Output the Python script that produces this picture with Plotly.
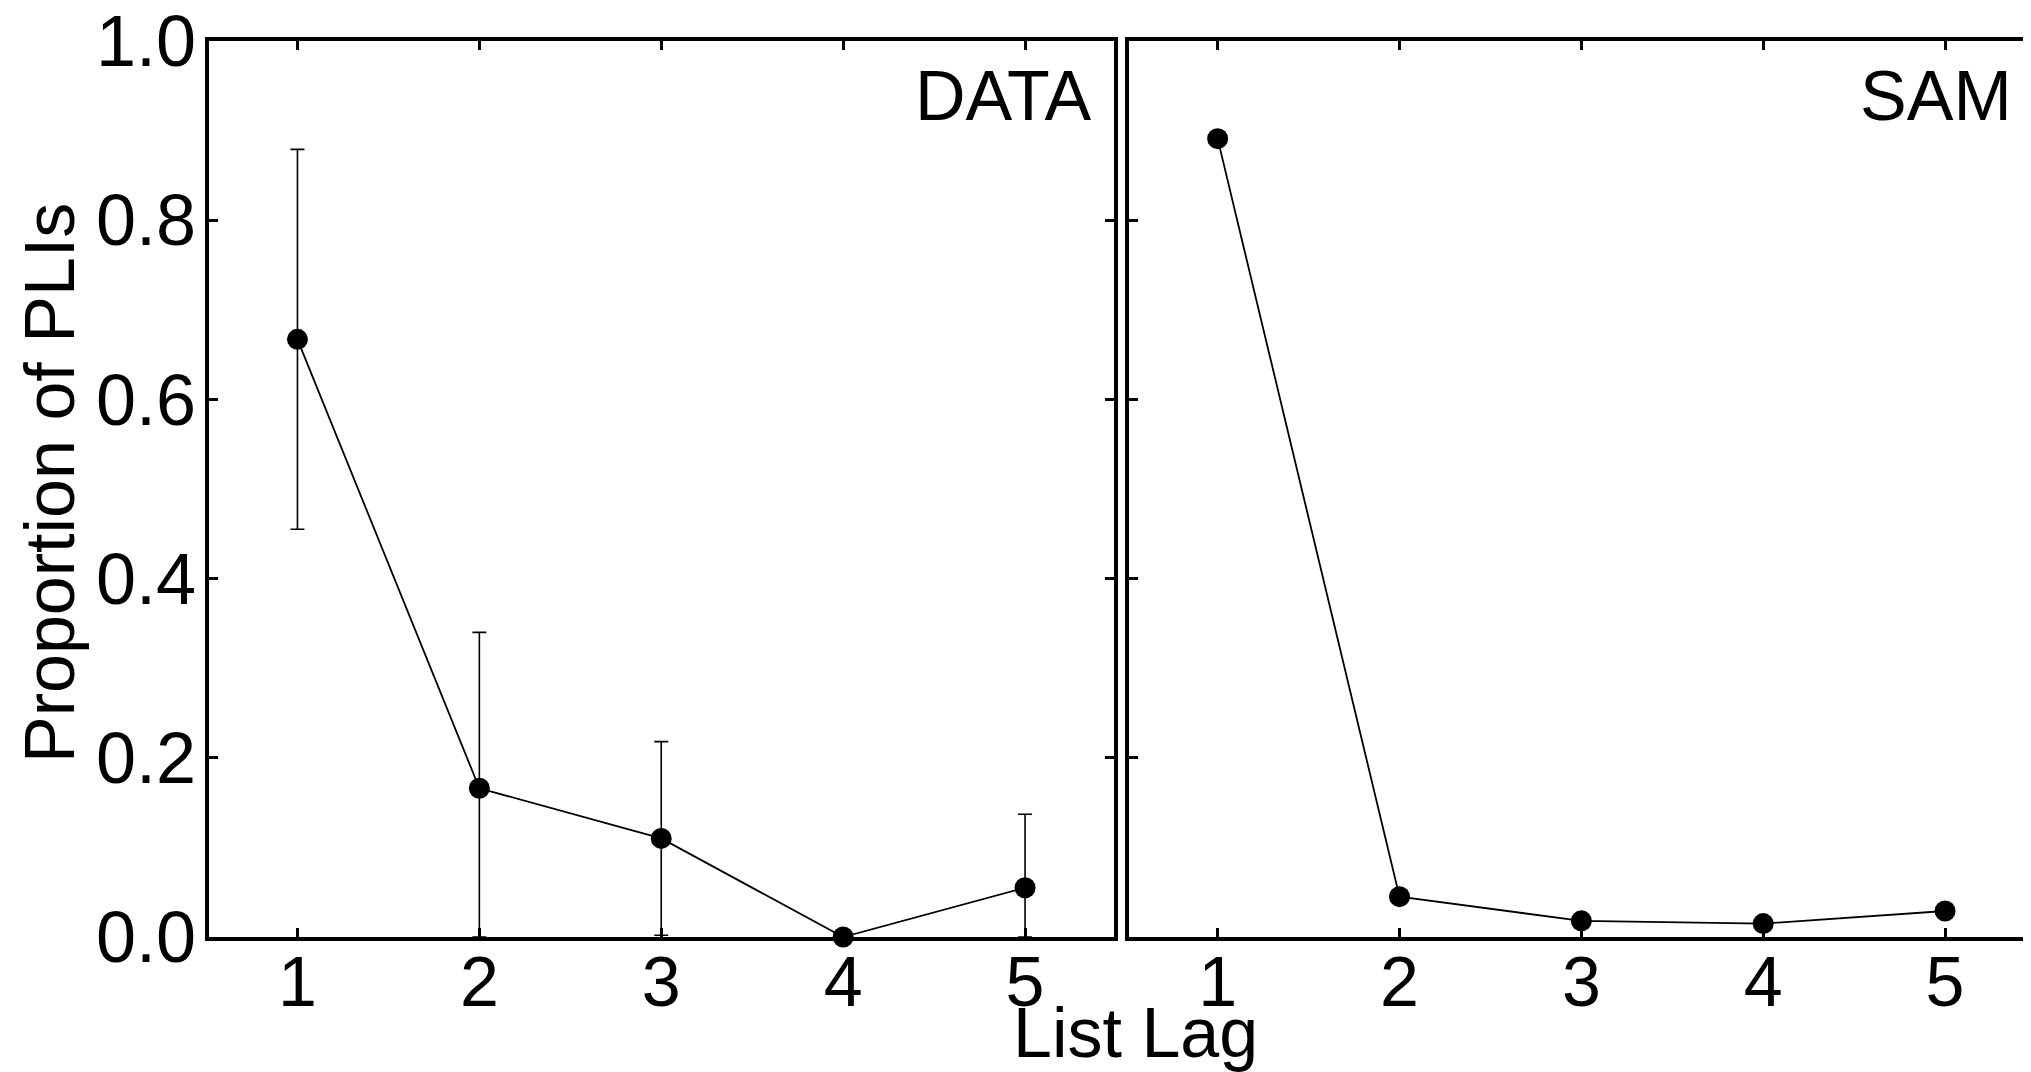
import plotly.graph_objects as go

# ---- data ----
lags = [1, 2, 3, 4, 5]
tick_labels = ["1", "2", "3", "4", "5"]
data_mean = [0.667, 0.166, 0.110, 0.0, 0.055]
data_err = [0.212, 0.174, 0.108, 0.0, 0.082]
sam_mean = [0.891, 0.045, 0.018, 0.015, 0.029]
y_ticks = [0.0, 0.2, 0.4, 0.6, 0.8, 1.0]

FONT = "Liberation Sans, Arial, Helvetica, sans-serif"
W, H = 2031, 1072
L, R, T, B = 200, 0, 33, 143
PW = W - L - R


def px(p):
    return (p - L) / PW


data_err_minus = [min(e, m) for e, m in zip(data_err, data_mean)]

fig = go.Figure()
fig.add_trace(go.Scatter(
    x=lags, y=data_mean, mode="lines+markers",
    line=dict(color="black", width=1.8),
    marker=dict(color="black", size=21),
    error_y=dict(type="data", array=data_err, arrayminus=data_err_minus,
                 symmetric=False, color="black", thickness=1.6, width=7),
    cliponaxis=False, showlegend=False, xaxis="x", yaxis="y",
))
fig.add_trace(go.Scatter(
    x=lags, y=sam_mean, mode="lines+markers",
    line=dict(color="black", width=1.8),
    marker=dict(color="black", size=21),
    cliponaxis=False, showlegend=False, xaxis="x2", yaxis="y2",
))

axis_common = dict(
    showgrid=False, zeroline=False, showline=True, linecolor="black",
    linewidth=4, mirror="ticks", ticks="inside", ticklen=9, tickwidth=3,
    tickcolor="black", ticklabeloverflow="allow", automargin=False,
)
xrange = [0.511, 5.489]
xfont = dict(family=FONT, size=70, color="black")
yfont = dict(family=FONT, size=72, color="black")

fig.update_layout(
    template="none",
    width=W, height=H,
    margin=dict(l=L, r=R, t=T, b=B, pad=0, autoexpand=False),
    paper_bgcolor="white", plot_bgcolor="white",
    font=dict(family=FONT, color="black"),
    showlegend=False,
    xaxis=dict(domain=[px(200.5), px(1106)], range=xrange, tickvals=lags,
               ticktext=tick_labels, anchor="y", ticklabelstandoff=-19,
               tickfont=xfont, **axis_common),
    yaxis=dict(domain=[0, 1], range=[0, 1], tickvals=y_ticks,
               tickformat=".1f", anchor="x", ticklabelstandoff=-6,
               tickfont=yfont, **axis_common),
    xaxis2=dict(domain=[px(1120.7), px(2026)], range=xrange, tickvals=lags,
                ticktext=tick_labels, anchor="y2", ticklabelstandoff=-19,
                tickfont=xfont, **axis_common),
    yaxis2=dict(domain=[0, 1], range=[0, 1], tickvals=y_ticks,
                showticklabels=False, anchor="x2", tickfont=yfont,
                **axis_common),
    annotations=[
        dict(text="DATA", xref="x domain", yref="y domain", x=0.978, y=0.9386,
             xanchor="right", yanchor="middle", showarrow=False,
             font=dict(family=FONT, size=70, color="black")),
        dict(text="SAM", xref="x2 domain", yref="y2 domain", x=0.978, y=0.9386,
             xanchor="right", yanchor="middle", showarrow=False,
             font=dict(family=FONT, size=70, color="black")),
        dict(text="List Lag", xref="paper", yref="paper", x=px(1127.5),
             y=-0.1071, xanchor="center", yanchor="middle", showarrow=False,
             font=dict(family=FONT, size=70, color="black")),
        dict(text="Proportion of PLIs", xref="paper", yref="paper",
             x=px(42), y=0.5067, xanchor="center", yanchor="middle",
             textangle=-90, showarrow=False,
             font=dict(family=FONT, size=70, color="black")),
    ],
)

fig.write_html("out.html")
